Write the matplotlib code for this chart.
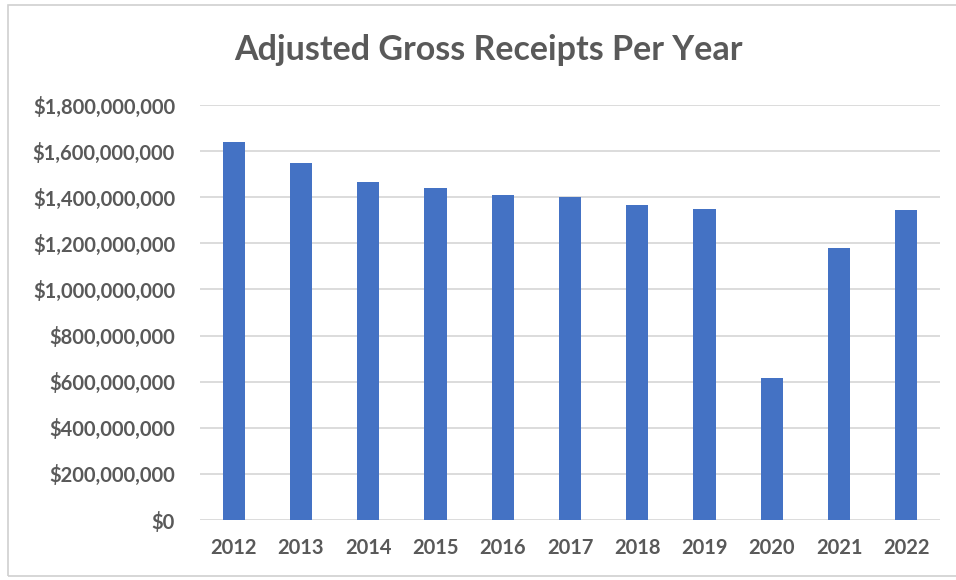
import matplotlib.pyplot as plt
from matplotlib.patches import Rectangle
from matplotlib.ticker import FuncFormatter

years = ['2012', '2013', '2014', '2015', '2016', '2017', '2018', '2019', '2020', '2021', '2022']
receipts = [1.638e9, 1.550e9, 1.465e9, 1.438e9, 1.410e9, 1.403e9,
            1.368e9, 1.351e9, 0.616e9, 1.180e9, 1.345e9]
yticks = [0, 2e8, 4e8, 6e8, 8e8, 1e9, 1.2e9, 1.4e9, 1.6e9, 1.8e9]

plt.rcParams['font.family'] = ['Lato', 'DejaVu Sans']
grey = '#595959'

fig = plt.figure(figsize=(9.56, 5.8), dpi=100)
W, H = 956, 580
ax = fig.add_axes([200 / W, 1 - 520 / H, 740 / W, 415 / H])

ax.bar(range(len(years)), receipts, width=0.33, color='#4472C4', zorder=3)
ax.set_xlim(-0.5, len(years) - 0.5)
ax.set_ylim(0, 1.8e9)
ax.set_yticks(yticks)
ax.yaxis.set_major_formatter(FuncFormatter(lambda v, p: '${:,.0f}'.format(v)))
ax.set_xticks(range(len(years)))
ax.set_xticklabels(years)
ax.grid(axis='y', color='#d9d9d9', linewidth=1.3, zorder=0)
for s in ax.spines.values():
    s.set_visible(False)
ax.tick_params(length=0, labelsize=14.5, labelcolor=grey)
ax.tick_params(axis='y', pad=18)
ax.tick_params(axis='x', pad=13)
for lbl in ax.get_xticklabels() + ax.get_yticklabels():
    lbl.set_fontweight('bold')

fig.text(488 / W, 1 - 50 / H, 'Adjusted Gross Receipts Per Year', ha='center', va='center',
         fontsize=24.5, fontweight='bold', color=grey)

# chart border
fig.patches.append(Rectangle((8 / W, 1 - 576 / H), 960 / W, 571 / H, transform=fig.transFigure,
                             fill=False, edgecolor='#d0d0d0', linewidth=1.2))

fig.savefig('out.png', dpi=100, facecolor='white')
